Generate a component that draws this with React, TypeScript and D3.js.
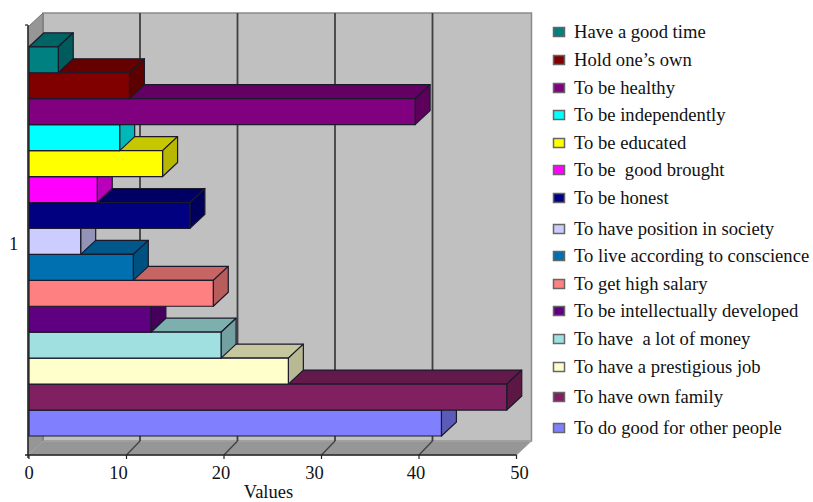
import React from "react";
import * as d3 from "d3";

// Data, top bar first
const categories = [
  "Have a good time", "Hold one\u2019s own", "To be healthy", "To be independently", "To be educated",
  "To be  good brought", "To be honest", "To have position in society", "To live according to conscience",
  "To get high salary", "To be intellectually developed", "To have  a lot of money", "To have a prestigious job",
  "To have own family", "To do good for other people",
];
const values = [3, 10.3, 39.6, 9.3, 13.7, 7, 16.5, 5.3, 10.7, 18.9, 12.5, 19.7, 26.6, 49, 42.3];
const palette = [
  "#008080", "#800000", "#800080", "#00ffff", "#ffff00", "#ff00ff", "#000080", "#ccccff", "#0070b0",
  "#ff8080", "#5e0080", "#a0e0e0", "#ffffcc", "#802060", "#8080ff",
];
const tickValues = [0, 10, 20, 30, 40, 50];
const tickLabelShift = [0, -8, -3, -7, -3, 3];
const legendCenters = [32, 60, 88, 115, 143, 170, 198, 229, 256, 284, 311, 339, 367, 397, 428];

const W = 813, H = 502;
const DX = 15, DY = -14;
const X0 = 29, X50 = 516.5;
const TOP = 46.8, BOTTOM = 436;
const FLOOR = 455, WALL_TOP = 13;
const INK = "#1a1a2a";
const FONT = "'Liberation Serif', 'Times New Roman', serif";

const x = d3.scaleLinear().domain([0, 50]).range([X0, X50]);
const y = d3.scaleBand<string>().domain(categories).range([TOP, BOTTOM]);
const shade = (c: string, k: number) => {
  const r = d3.rgb(c);
  return d3.rgb(r.r * k, r.g * k, r.b * k).formatHex();
};
const poly = (pts: [number, number][]) => d3.line()(pts) + "Z";

export default function App() {
  const order = categories.map((_, i) => i).reverse();
  return (
    <svg width={W} height={H} viewBox={`0 0 ${W} ${H}`} style={{ position: "absolute", left: 0, top: 0, background: "#fff" }} fontFamily={FONT}>
      {/* back wall */}
      <rect x={X0 + DX - 1} y={WALL_TOP} width={x(50) - X0 + 1} height={FLOOR + DY - WALL_TOP} fill="#c0c0c0" stroke="#8a8a8a" strokeWidth={1.5} />
      {/* left wall */}
      <path d={poly([[X0 - 1, WALL_TOP - DY], [X0 - 1 + DX, WALL_TOP], [X0 - 1 + DX, FLOOR + DY], [X0 - 1, FLOOR]])} fill="#969696" stroke="#707070" />
      {/* floor */}
      <path d={poly([[X0 - 1, FLOOR], [x(50), FLOOR], [x(50) + DX, FLOOR + DY], [X0 - 1 + DX, FLOOR + DY]])} fill="#969696" stroke="#a8a8a8" />
      {/* grid */}
      {tickValues.slice(1, 5).map((t) => (
        <g key={t} stroke="#404040" fill="none">
          <line x1={x(t) + DX - 1.5} x2={x(t) + DX - 1.5} y1={WALL_TOP} y2={FLOOR + DY} strokeWidth={1.8} />
          <line x1={x(t) + DX - 1.5} x2={x(t)} y1={FLOOR + DY} y2={FLOOR} strokeWidth={1.3} />
        </g>
      ))}
      {/* bars, lowest first so the bar above hides its top face */}
      {order.map((i) => {
        const c = categories[i];
        const y0 = y(c)!, h = y.bandwidth();
        const x1 = x(values[i]);
        return (
          <g key={c} stroke={INK} strokeWidth={1.2} strokeLinejoin="round">
            <path d={poly([[X0, y0], [X0 + DX, y0 + DY], [x1 + DX, y0 + DY], [x1, y0]])} fill={shade(palette[i], 0.78)} />
            <path d={poly([[x1, y0], [x1 + DX, y0 + DY], [x1 + DX, y0 + h + DY], [x1, y0 + h]])} fill={shade(palette[i], 0.72)} />
            <rect x={X0} y={y0} width={x1 - X0} height={h} fill={palette[i]} />
          </g>
        );
      })}
      {/* axis */}
      <line x1={X0 - 1} x2={X0 - 1} y1={25} y2={FLOOR + 3} stroke="#222" strokeWidth={1.4} />
      <line x1={X0 - 4} x2={X0 - 1} y1={25} y2={25} stroke="#222" strokeWidth={1.2} />
      <line x1={X0 - 4} x2={x(50)} y1={FLOOR} y2={FLOOR} stroke="#222" strokeWidth={1.4} />
      {tickValues.map((t, i) => (
        <g key={t}>
          <line x1={x(t)} x2={x(t)} y1={FLOOR} y2={FLOOR + 4} stroke="#222" strokeWidth={1.2} />
          <text x={x(t) + tickLabelShift[i]} y={479} textAnchor="middle" fontSize={18.5} fill="#111">{t}</text>
        </g>
      ))}
      <text x={13.5} y={249.5} textAnchor="middle" fontSize={18.5} fill="#111">1</text>
      <text x={268.5} y={498} textAnchor="middle" fontSize={18.5} fill="#111">Values</text>
      {/* legend */}
      {categories.map((c, i) => (
        <g key={c}>
          <rect x={553.5} y={legendCenters[i] - 4.5} width={11} height={9} fill={palette[i]} stroke="#666" strokeWidth={1.5} />
          <text x={574} y={legendCenters[i] + 5.5} fontSize={18.6} fill="#111" style={{ whiteSpace: "pre" }}>{c}</text>
        </g>
      ))}
    </svg>
  );
}
